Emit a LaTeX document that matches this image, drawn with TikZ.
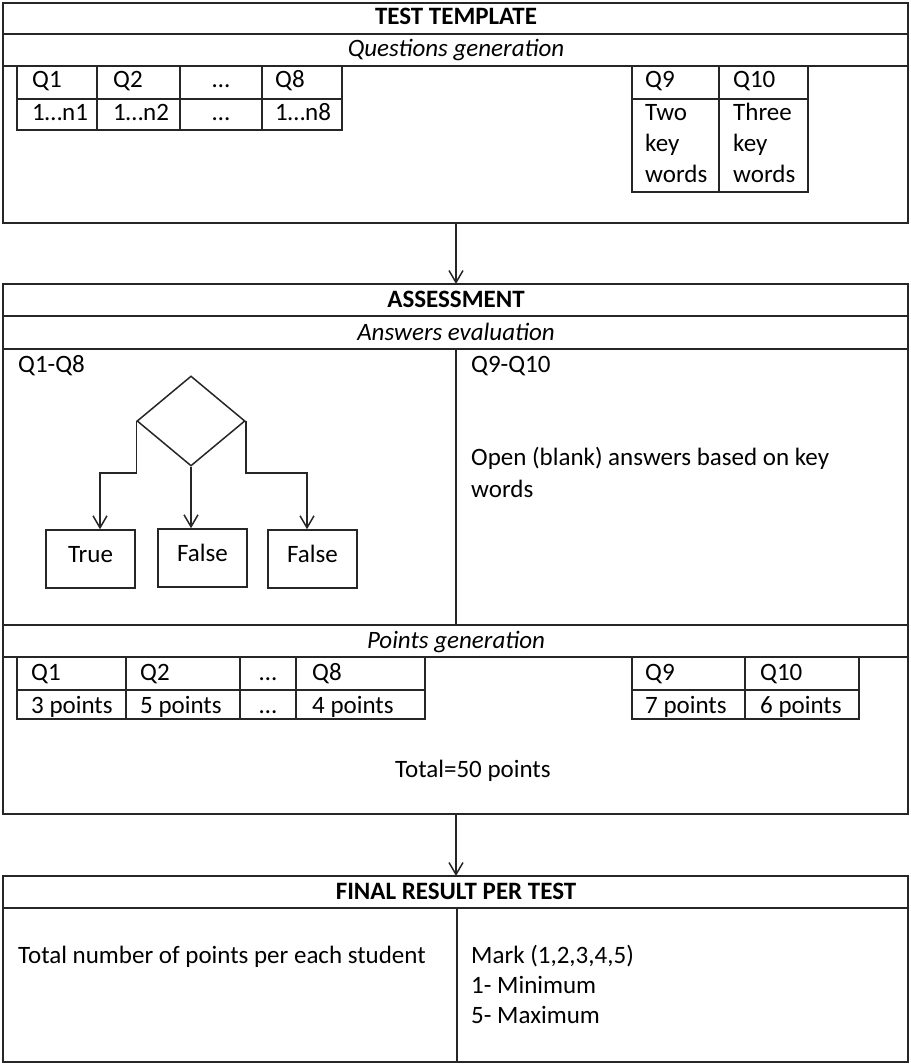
\documentclass[tikz,border=0pt]{standalone}
\usepackage{fontspec}
\setmainfont{Carlito}
\usepackage{tikz}
\usetikzlibrary{arrows.meta,shapes.geometric}

\begin{document}
\begin{tikzpicture}[x=1pt, y=-1pt, >={Straight Barb[length=12pt,width=14pt]},
  frame/.style={line width=1.5pt, draw=black!85},
  lbl/.style={anchor=base west, inner sep=0pt, font=\fontsize{25}{31}\selectfont},
  mid/.style={anchor=base, inner sep=0pt, font=\fontsize{25}{31}\selectfont},
  ttl/.style={anchor=base, inner sep=0pt, font=\fontsize{25}{31}\selectfont\bfseries},
  sub/.style={anchor=base, inner sep=0pt, font=\fontsize{25}{31}\selectfont\itshape},
  res/.style={frame, minimum width=89pt, minimum height=58pt, inner sep=0pt,
    text height=16pt, text depth=10pt, font=\fontsize{25}{31}\selectfont}]
  \useasboundingbox (0,0) rectangle (910,1064);
  % test template
  \draw[frame] (3,3) rectangle (908,223) (3,34) -- (908,34) (3,66) -- (908,66);
  \node[ttl] (tT) at (456,25) {TEST TEMPLATE};
  \node[sub] (tS) at (456,57) {Questions generation};
  \draw[frame] (17,66) rectangle (342,130) (17,99) -- (342,99)
    (97,66) -- (97,130) (180,66) -- (180,130) (262,66) -- (262,130);
  \node[lbl] (q1) at (32,88) {Q1};
  \node[lbl] (q2) at (113,88) {Q2};
  \node[mid] (qd) at (221,88) {…};
  \node[lbl] (q8) at (275,88) {Q8};
  \node[lbl] (n1) at (32,121) {1…n1};
  \node[lbl] (n2) at (113,121) {1…n2};
  \node[mid] (nd) at (221,121) {…};
  \node[lbl] (n8) at (275,121) {1…n8};
  \draw[frame] (632,66) rectangle (808,192) (632,99) -- (808,99) (719,66) -- (719,192);
  \node[lbl] (q9) at (645,88) {Q9};
  \node[lbl] (q10) at (733,88) {Q10};
  \node[lbl] (k9a) at (645,121) {Two};
  \node[lbl] (k9b) at (645,152) {key};
  \node[lbl] (k9c) at (645,183) {words};
  \node[lbl] (k10a) at (733,121) {Three};
  \node[lbl] (k10b) at (733,152) {key};
  \node[lbl] (k10c) at (733,183) {words};
  % assessment
  \coordinate (tB) at (456,223);
  \coordinate (aN) at (456,284);
  \draw[frame, ->] (tB) -- (aN);
  \draw[frame] (3,284) rectangle (908,814) (3,316) -- (908,316) (3,349) -- (908,349)
    (456,349) -- (456,625) (3,625) -- (908,625) (3,657) -- (908,657);
  \node[ttl] (aT) at (456,307) {ASSESSMENT};
  \node[sub] (aS) at (456,340) {Answers evaluation};
  \node[lbl] (a18) at (18,372) {Q1-Q8};
  \node[lbl] (a910) at (471,372) {Q9-Q10};
  \node[lbl] (op1) at (471,465) {Open (blank) answers based on key};
  \node[lbl] (op2) at (471,497) {words};
  % decision
  \node[diamond, frame, minimum width=108pt, minimum height=90pt, inner sep=0pt] (dec) at (191,421) {};
  \node[res] (bT) at (90.5,559) {True};
  \node[res] (bF) at (202.5,558) {False};
  \node[res] (bG) at (312.5,559) {False};
  \coordinate (jl) at (100,473);
  \coordinate (jr) at (307,473);
  \draw[frame, ->] (dec.west) |- (jl) -- (jl |- bT.north);
  \draw[frame, ->] (dec.south) -- (dec.south |- bF.north);
  \draw[frame, ->] (dec.east) |- (jr) -- (jr |- bG.north);
  % points
  \node[sub] (pS) at (456,648) {Points generation};
  \draw[frame] (17,657) rectangle (425,719) (17,690) -- (425,690)
    (126,657) -- (126,719) (240,657) -- (240,719) (296,657) -- (296,719);
  \node[lbl] (p1) at (31,680) {Q1};
  \node[lbl] (v1) at (31,713) {3 points};
  \node[lbl] (p2) at (140,680) {Q2};
  \node[lbl] (v2) at (140,713) {5 points};
  \node[mid] (pd) at (268,680) {…};
  \node[mid] (vd) at (268,713) {…};
  \node[lbl] (p8) at (312,680) {Q8};
  \node[lbl] (v8) at (312,713) {4 points};
  \draw[frame] (632,657) rectangle (859,719) (632,690) -- (859,690) (745,657) -- (745,719);
  \node[lbl] (p9) at (645,680) {Q9};
  \node[lbl] (v9) at (645,713) {7 points};
  \node[lbl] (p10) at (760,680) {Q10};
  \node[lbl] (v10) at (760,713) {6 points};
  \node[lbl] (tot) at (395,777) {Total=50 points};
  % final result
  \coordinate (aB) at (456,814);
  \coordinate (fN) at (456,876);
  \draw[frame, ->] (aB) -- (fN);
  \draw[frame] (3,876) rectangle (908,1062) (3,908) -- (908,908) (457,908) -- (457,1062);
  \node[ttl] (fT) at (456,899) {FINAL RESULT PER TEST};
  \node[lbl] (fL) at (18,963) {Total number of points per each student};
  \node[lbl] (m0) at (471,963) {Mark (1,2,3,4,5)};
  \node[lbl] (m1) at (471,993) {1- Minimum};
  \node[lbl] (m5) at (471,1023) {5- Maximum};
\end{tikzpicture}
\end{document}
